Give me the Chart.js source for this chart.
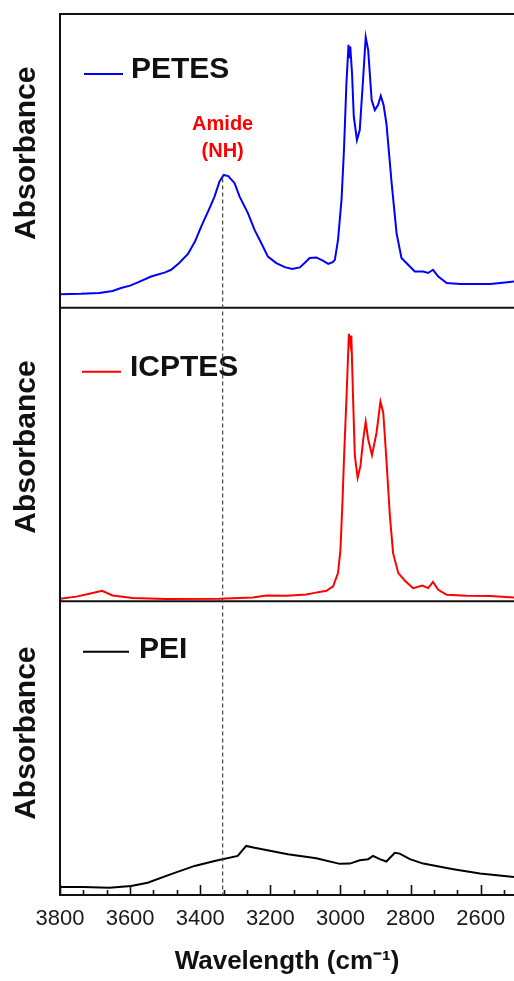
<!DOCTYPE html>
<html><head><meta charset="utf-8">
<script src="https://cdn.jsdelivr.net/npm/chart.js@4.4.0/dist/chart.umd.min.js"></script>
<style>html,body{margin:0;padding:0;background:#fff;overflow:hidden}#wrap{position:relative;width:514px;height:981px}</style>
</head><body><div id="wrap"><canvas id="c" width="514" height="981"></canvas></div>
<script>
// ---- data ----
const X_MAX = 3800;
const X_MIN = 2505;
const X_TICKS = [3800, 3600, 3400, 3200, 3000, 2800, 2600];
const X_MINOR_TICKS = [3733.3, 3666.7, 3533.3, 3466.7, 3333.3, 3266.7, 3133.3, 3066.7, 2933.3, 2866.7, 2733.3, 2666.7, 2533.3];
const SERIES_NAMES = ['PETES', 'ICPTES', 'PEI'];

const PETES_X = [3800,3740,3688,3650,3626,3600,3578,3540,3500,3483,3460,3435,3415,3397,3373,3359,3345,3333,3320,3302,3288,3264,3245,3226,3207,3183,3159,3138,3116,3100,3088,3069,3050,3035,3022,3016,3007,2997,2990,2983,2977,2975,2972,2967,2962,2953,2945,2935,2928,2921,2911,2902,2893,2885,2877,2869,2854,2840,2826,2807,2788,2764,2750,2736,2721,2697,2659,2573,2530,2505];
const PETES_Y = [4.6,4.7,5.0,5.7,6.7,7.5,8.6,10.6,12.0,12.9,15.2,18.3,22.5,27.7,34.0,37.9,43.0,45.2,44.8,42.4,37.9,32.2,26.5,22.0,17.4,15.2,13.8,13.2,13.7,15.5,16.9,17.1,16.0,14.9,15.5,16.3,23.1,36.7,53.7,76.4,89.5,85.0,88.9,79.8,65.1,57.1,60.5,78.7,92.1,87.8,70.7,67.3,69.0,72.1,69.0,62.8,42.4,25.4,16.9,14.6,12.3,12.3,11.8,12.9,10.6,8.4,8.1,8.1,8.6,8.9];

const ICPTES_X = [3800,3754,3716,3680,3650,3593,3497,3345,3250,3211,3154,3097,3078,3040,3021,3007,3000,2994,2990,2983,2976,2971,2969,2964,2959,2951,2943,2935,2928,2921,2910,2897,2886,2878,2869,2859,2850,2835,2816,2793,2766,2750,2736,2721,2697,2640,2573,2505];
const ICPTES_Y = [0.9,1.6,2.6,3.6,2.0,1.1,0.8,0.9,1.3,2.0,1.9,2.3,2.8,3.6,5.1,9.6,17.6,34.7,48.4,68.9,91.1,87.1,90.5,68.9,49.5,42.1,46.1,55.2,61.1,55.2,49.8,57.5,68.0,64.3,48.4,29.0,16.5,9.6,7.0,4.5,5.4,4.5,6.6,3.9,2.2,1.9,1.8,1.3];

const PEI_X = [3800,3735,3659,3597,3550,3483,3416,3359,3293,3269,3245,3150,3069,3002,2973,2945,2921,2907,2888,2869,2845,2831,2802,2764,2678,2602,2505];
const PEI_Y = [2.7,2.7,2.5,3.1,4.2,7.1,9.9,11.6,13.3,16.7,16.1,13.9,12.5,10.6,10.7,11.8,12.2,13.3,12.2,11.4,14.4,14.1,12.2,10.7,8.8,7.3,6.1];

const AMIDE_X = 3336;      // dashed marker position (cm-1)
const AMIDE_TOP = 44;      // where the dashed marker starts in the PETES panel
const AMIDE_LABEL = ['Amide', '(NH)'];
const AMIDE_LABEL_Y = [62.4, 53.2];

// ---- chart ----
const FONT = "'Liberation Sans', Arial, sans-serif";
const COLORS = ['#0000ff', '#ff0000', '#000000'];
const Y_IDS = ['yPETES', 'yICPTES', 'yPEI'];
const toPts = (xs, ys) => xs.map((x, i) => ({x: x, y: ys[i]}));
const SERIES = [[PETES_X, PETES_Y], [ICPTES_X, ICPTES_Y], [PEI_X, PEI_Y]];

const LEGEND_POS = [
  {x0: 24, x1: 63, ly: 60, tx: 71, ty: 56},
  {x0: 22, x1: 61, ly: 64, tx: 70, ty: 60},
  {x0: 23, x1: 69, ly: 50.5, tx: 79, ty: 48}
];

const panelPlugin = {
  id: 'panels',
  afterDraw(chart) {
    const ctx = chart.ctx;
    const ca = chart.chartArea;
    const xs = chart.scales.x;
    ctx.save();
    // frame lines
    ctx.strokeStyle = '#111';
    ctx.lineWidth = 2;
    ctx.beginPath();
    ctx.moveTo(ca.left, ca.top); ctx.lineTo(ca.right, ca.top);
    Y_IDS.forEach(id => {
      const s = chart.scales[id];
      ctx.moveTo(ca.left, s.bottom); ctx.lineTo(ca.right, s.bottom);
    });
    ctx.moveTo(ca.left, ca.top); ctx.lineTo(ca.left, ca.bottom);
    ctx.stroke();
    // inward ticks on the bottom axis
    ctx.lineWidth = 1.6;
    ctx.beginPath();
    X_TICKS.forEach(v => { const p = Math.round(xs.getPixelForValue(v)) + 0.5; ctx.moveTo(p, ca.bottom); ctx.lineTo(p, ca.bottom - 10); });
    X_MINOR_TICKS.forEach(v => { const p = Math.round(xs.getPixelForValue(v)) + 0.5; ctx.moveTo(p, ca.bottom); ctx.lineTo(p, ca.bottom - 5); });
    ctx.stroke();
    // per-panel legends
    chart.data.datasets.forEach((ds, i) => {
      const s = chart.scales[ds.yAxisID];
      const lp = LEGEND_POS[i];
      ctx.strokeStyle = ds.borderColor;
      ctx.lineWidth = 2;
      ctx.beginPath();
      ctx.moveTo(ca.left + lp.x0, s.top + lp.ly); ctx.lineTo(ca.left + lp.x1, s.top + lp.ly);
      ctx.stroke();
      ctx.fillStyle = '#111';
      ctx.font = 'bold 30px ' + FONT;
      ctx.textAlign = 'left';
      ctx.textBaseline = 'middle';
      ctx.fillText(ds.label, ca.left + lp.tx, s.top + lp.ty);
    });
    // dashed amide marker
    const yTop = chart.scales.yPETES;
    const px = xs.getPixelForValue(AMIDE_X);
    ctx.strokeStyle = '#444';
    ctx.lineWidth = 1.2;
    ctx.setLineDash([4, 3]);
    ctx.beginPath();
    ctx.moveTo(px, yTop.getPixelForValue(AMIDE_TOP)); ctx.lineTo(px, ca.bottom);
    ctx.stroke();
    ctx.setLineDash([]);
    // amide label
    ctx.fillStyle = '#ff0000';
    ctx.font = 'bold 20px ' + FONT;
    ctx.textAlign = 'center';
    ctx.textBaseline = 'middle';
    AMIDE_LABEL.forEach((t, i) => ctx.fillText(t, px, yTop.getPixelForValue(AMIDE_LABEL_Y[i])));
    ctx.restore();
  }
};

function yScale(weight, lead) {
  return {
    type: 'linear', position: 'left', stack: 'panels', stackWeight: 1, weight: weight,
    min: 0, max: 100,
    ticks: {display: false},
    grid: {display: false},
    border: {display: true, width: 2, color: '#111'},
    title: {display: true, text: lead + 'Absorbance', color: '#111', font: {family: FONT, size: 30, weight: 'bold'}, padding: {top: 9, bottom: 0}},
    afterFit(s) { s.width = 60; }
  };
}

new Chart(document.getElementById('c'), {
  type: 'line',
  data: {
    datasets: SERIES.map((s, i) => ({
      label: SERIES_NAMES[i],
      data: toPts(s[0], s[1]),
      yAxisID: Y_IDS[i],
      borderColor: COLORS[i],
      borderWidth: 2,
      pointRadius: 0,
      tension: 0,
      fill: false
    }))
  },
  options: {
    responsive: false,
    devicePixelRatio: 1,
    animation: false,
    layout: {padding: {top: 14, left: 0, right: 0, bottom: 0}},
    plugins: {legend: {display: false}, tooltip: {enabled: false}},
    scales: {
      x: {
        type: 'linear', position: 'bottom', reverse: true, min: X_MIN, max: X_MAX,
        afterBuildTicks(s) { s.ticks = X_TICKS.slice().reverse().map(v => ({value: v})); },
        ticks: {autoSkip: false, maxRotation: 0, padding: 11, color: '#1a1a1a', font: {family: FONT, size: 22}, callback: v => String(v)},
        grid: {display: false, drawTicks: false},
        border: {display: true, width: 2, color: '#111'},
        title: {display: true, text: 'Wavelength (cm\u207B\u00B9)', color: '#111', font: {family: FONT, size: 26, weight: 'bold'}, padding: {top: 0, bottom: 4}},
        afterFit(s) { s.height = 86; }
      },
      yPETES: yScale(3, '\u2002'),
      yICPTES: yScale(2, '\u2002'),
      yPEI: yScale(1, '\u2003')
    }
  },
  plugins: [panelPlugin]
});
</script>
</body></html>
